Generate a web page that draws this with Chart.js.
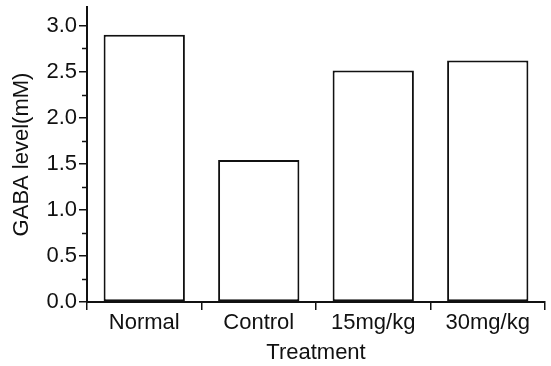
<!DOCTYPE html>
<html>
<head>
<meta charset="utf-8">
<script src="https://cdn.jsdelivr.net/npm/chart.js@4"></script>
<style>
  html, body { margin: 0; padding: 0; background: #fff; }
  #wrap { width: 551px; height: 366px; }
</style>
</head>
<body>
<div id="wrap"><canvas id="gabaChart" width="551" height="366"></canvas></div>
<script>
const treatments = ['Normal', 'Control', '15mg/kg', '30mg/kg'];
const gabaLevels = [2.90, 1.54, 2.51, 2.62];
const yTicks = [0, 0.5, 1.0, 1.5, 2.0, 2.5, 3.0];
const yMinorTicks = [0.25, 0.75, 1.25, 1.75, 2.25, 2.75];

const ink = '#111';
const fontFamily = '"Liberation Sans", Arial, Helvetica, sans-serif';

// minor ticks on the y axis
const minorTicks = {
  id: 'minorTicks',
  afterDraw(chart) {
    const y = chart.scales.y;
    const c = chart.ctx;
    c.save();
    c.strokeStyle = ink;
    c.lineWidth = 1.5;
    yMinorTicks.forEach(v => {
      const py = Math.round(y.getPixelForValue(v)) + 0.5;
      c.beginPath();
      c.moveTo(y.right - 5, py);
      c.lineTo(y.right, py);
      c.stroke();
    });
    c.restore();
  }
};

const ctx = document.getElementById('gabaChart').getContext('2d');
const gabaChart = new Chart(ctx, {
  type: 'bar',
  data: {
    labels: treatments,
    datasets: [{
      label: 'GABA level',
      data: gabaLevels,
      backgroundColor: '#fff',
      borderColor: ink,
      borderWidth: 2,
      borderSkipped: false,
      barPercentage: 0.71,
      categoryPercentage: 1
    }]
  },
  options: {
    responsive: false,
    animation: false,
    layout: { padding: { top: 7, right: 6, left: 0, bottom: 0 } },
    plugins: { legend: { display: false }, tooltip: { enabled: false } },
    scales: {
      x: {
        grid: { offset: true, drawOnChartArea: false, drawTicks: true, tickLength: 8, color: ink, lineWidth: 1.5 },
        border: { display: true, color: ink, width: 2 },
        ticks: { color: ink, padding: 0, font: { family: fontFamily, size: 22 } },
        title: { display: true, text: 'Treatment', color: ink, padding: { top: 1, bottom: 0 }, font: { family: fontFamily, size: 22 } },
        afterFit(scale) {
          scale.height = 64;
          scale.paddingLeft = 0;
          scale.paddingRight = 0;
        }
      },
      y: {
        min: 0,
        max: 3.2,
        afterBuildTicks(scale) { scale.ticks = yTicks.map(v => ({ value: v })); },
        grid: { drawOnChartArea: false, drawTicks: true, tickLength: 8, color: ink, lineWidth: 1.5 },
        border: { display: true, color: ink, width: 2 },
        ticks: {
          color: ink,
          padding: 2,
          font: { family: fontFamily, size: 22 },
          callback: v => v.toFixed(1)
        },
        title: { display: true, text: 'GABA level(mM)', color: ink, padding: { top: 9, bottom: 0 }, font: { family: fontFamily, size: 22 } },
        afterFit(scale) {
          scale.width = 87;
          scale.paddingTop = 0;
          scale.paddingBottom = 0;
        }
      }
    }
  },
  plugins: [minorTicks]
});
</script>
</body>
</html>
